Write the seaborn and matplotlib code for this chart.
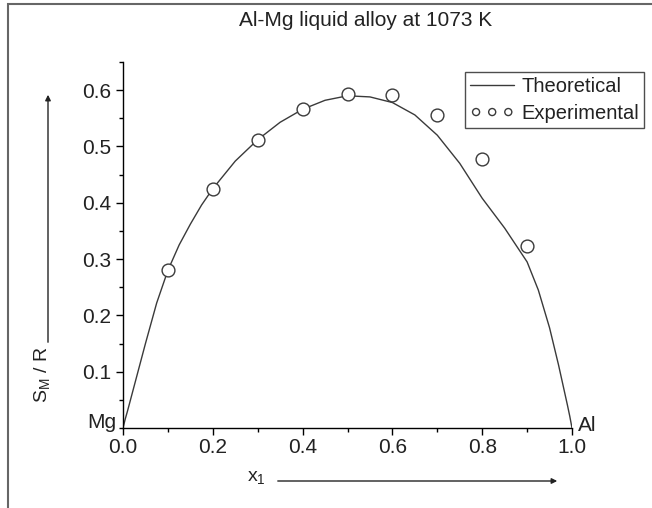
import numpy as np
import pandas as pd
import matplotlib
matplotlib.use("Agg")
import matplotlib.pyplot as plt
from matplotlib.patches import Rectangle, FancyArrowPatch
from matplotlib.ticker import MultipleLocator
import seaborn as sns

# ---- data ----
x_theory = [0.0, 0.005, 0.01, 0.02, 0.03, 0.04, 0.05, 0.075, 0.10, 0.125, 0.15, 0.175,
            0.20, 0.25, 0.30, 0.35, 0.40, 0.45, 0.50, 0.55, 0.60, 0.65, 0.70, 0.75,
            0.80, 0.85, 0.90, 0.925, 0.95, 0.97, 0.98, 0.99, 0.995, 1.0]
y_theory = [0.0, 0.016, 0.030, 0.060, 0.090, 0.120, 0.150, 0.222, 0.280, 0.325, 0.362, 0.396,
            0.425, 0.474, 0.512, 0.543, 0.566, 0.582, 0.590, 0.588, 0.578, 0.556, 0.520, 0.470,
            0.408, 0.355, 0.295, 0.245, 0.178, 0.112, 0.076, 0.040, 0.021, 0.0]
x_exp = [0.1, 0.2, 0.3, 0.4, 0.5, 0.6, 0.7, 0.8, 0.9]
y_exp = [0.280, 0.424, 0.512, 0.567, 0.594, 0.592, 0.556, 0.477, 0.324]
x_ticks = [0.0, 0.2, 0.4, 0.6, 0.8, 1.0]
y_ticks = [0.1, 0.2, 0.3, 0.4, 0.5, 0.6]
title = "Al-Mg liquid alloy at 1073 K"

sns.set_style("ticks")
plt.rcParams["font.family"] = ["Liberation Sans", "DejaVu Sans"]
plt.rcParams["mathtext.fontset"] = "custom"
plt.rcParams["mathtext.rm"] = "Liberation Sans"

FS = 15
W, H = 652, 508
fig = plt.figure(figsize=(W / 100, H / 100), dpi=100)
ax = fig.add_axes([123 / W, 80 / H, 449 / W, 366 / H])

col = "#3a3a3a"
tcol = "#222222"
sns.lineplot(x=x_theory, y=y_theory, ax=ax, color=col, lw=1.0, label="Theoretical",
             sort=False, estimator=None)
sns.scatterplot(x=x_exp, y=y_exp, ax=ax, marker="o", s=85, facecolor="white",
                edgecolor=col, linewidth=1.0, label="Experimental", zorder=3)

ax.set_xlim(0, 1.0)
ax.set_ylim(0, 0.65)
ax.set_xticks(x_ticks)
ax.set_xticklabels([f"{v:.1f}" for v in x_ticks])
ax.set_yticks(y_ticks)
ax.set_yticklabels([f"{v:.1f}" for v in y_ticks])
ax.xaxis.set_minor_locator(MultipleLocator(0.1))
ax.yaxis.set_minor_locator(MultipleLocator(0.05))
ax.tick_params(which="major", direction="out", length=4.8, width=1, labelsize=FS,
               color="black", labelcolor=tcol)
ax.tick_params(axis="x", which="major", pad=2.5)
ax.tick_params(axis="y", which="major", pad=3.5)
ax.tick_params(which="minor", direction="out", length=2.8, width=1, color="black")
sns.despine(ax=ax)
for s in ("left", "bottom"):
    ax.spines[s].set_linewidth(1.0)
    ax.spines[s].set_color("black")
ax.set_xlabel("")
ax.set_ylabel("")

# element labels at axis ends
ax.annotate("Mg", xy=(0, 0), xytext=(-7, 0), textcoords="offset pixels",
            ha="right", va="baseline", fontsize=FS, color=tcol)
ax.annotate("Al", xy=(1, 0), xytext=(6, -3), textcoords="offset pixels",
            ha="left", va="baseline", fontsize=FS, color=tcol)

leg = ax.legend(loc="upper left", bbox_to_anchor=(465 / W, 1 - 72 / H),
                bbox_transform=fig.transFigure, frameon=True, fancybox=False,
                edgecolor=tcol, fontsize=14.5, scatterpoints=3, scatteryoffsets=[0.5],
                markerscale=0.55, handlelength=2.2, handletextpad=0.35,
                borderpad=0.25, labelspacing=0.4, borderaxespad=0)
leg.get_frame().set_linewidth(1.0)
for t in leg.get_texts():
    t.set_color(tcol)

# title
fig.text(366 / W, 1 - 21 / H, title, ha="center", va="center", fontsize=15, color=tcol)

# axis labels with arrows
fig.text(43 / W, (H - 375) / H, r"S$_\mathregular{M}$ / R", rotation=90,
         ha="center", va="center", fontsize=14, color=tcol)
fig.text(256 / W, (H - 478) / H, r"x$_\mathregular{1}$", ha="center", va="center",
         fontsize=14, color=tcol)
fig.add_artist(FancyArrowPatch(
    posA=(48 / W, (H - 345) / H), posB=(48 / W, (H - 92) / H), transform=fig.transFigure,
    arrowstyle="-|>", mutation_scale=8, lw=1.0, color=tcol))
fig.add_artist(FancyArrowPatch(
    posA=(275 / W, (H - 481) / H), posB=(560 / W, (H - 481) / H), transform=fig.transFigure,
    arrowstyle="-|>", mutation_scale=8, lw=1.0, color=tcol))

# outer frame
fig.add_artist(Rectangle((8 / W, -0.05), 1.2, (H - 4) / H + 0.05, transform=fig.transFigure,
                         fill=False, edgecolor="#666", lw=1.5))

fig.savefig("out.png", dpi=100)
